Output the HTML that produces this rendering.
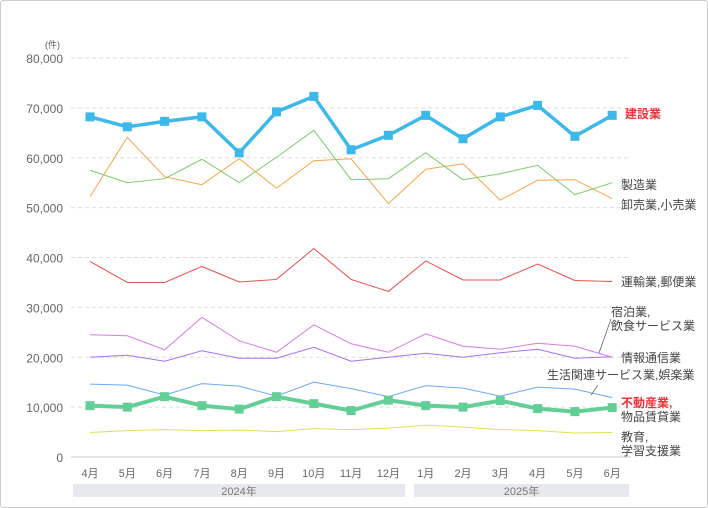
<!DOCTYPE html>
<html><head><meta charset="utf-8"><style>
body{margin:0;background:#fff;font-family:"Liberation Sans","Noto Sans CJK JP",sans-serif}
#wrap{position:relative;width:706px;height:506px;border:1px solid #ccc;border-radius:3px;overflow:hidden}
</style></head><body>
<div id="wrap">
<svg id="chart" width="706" height="506"></svg>
</div>
<script>
const months=["4月","5月","6月","7月","8月","9月","10月","11月","12月","1月","2月","3月","4月","5月","6月"];
const yTicks=[0,10000,20000,30000,40000,50000,60000,70000,80000];
const sConstruction=[68200,66200,67300,68200,61000,69200,72300,61600,64500,68500,63800,68200,70500,64300,68500];
const sManufacturing=[57500,55000,55800,59700,55000,60100,65500,55600,55800,61000,55600,56800,58500,52600,55000];
const sWholesale=[52200,64100,56200,54600,59800,53900,59400,59800,50800,57700,58800,51500,55500,55600,51800];
const sTransport=[39200,35000,35000,38200,35100,35600,41800,35600,33200,39300,35500,35500,38700,35400,35200];
const sAccommodation=[24500,24300,21500,28000,23300,21000,26500,22700,21000,24700,22200,21600,22800,22200,20000];
const sInfo=[20000,20400,19200,21300,19800,19800,22000,19200,20000,20800,20000,20900,21600,19800,20100];
const sLiving=[14600,14400,12400,14700,14200,12200,15000,13700,12100,14300,13800,12200,14000,13600,11900];
const sRealEstate=[10300,10000,12100,10300,9600,12100,10700,9300,11400,10300,10000,11300,9700,9100,9900];
const sEducation=[4900,5300,5500,5300,5400,5100,5700,5500,5800,6400,6000,5500,5300,4800,4900];

const svg=document.getElementById('chart');const NS="http://www.w3.org/2000/svg";
function el(t,a,p){const e=document.createElementNS(NS,t);for(const k in a)e.setAttribute(k,a[k]);(p||svg).appendChild(e);return e;}
const X=i=>89+i*37.3;
const Y=v=>456-v/80000*399;
yTicks.forEach(v=>{
  const l=el('line',{x1:70,x2:630,y1:Y(v),y2:Y(v),stroke:v===0?'#ccc':'#ddd','stroke-dasharray':v===0?'':'4,3'});
  
  
  const t=el('text',{x:62,y:Y(v)+5,'text-anchor':'end','font-size':12,fill:'#666'});
  t.textContent=v.toLocaleString('en-US');
  
  
});
const u=el('text',{x:44,y:47,'font-size':9,fill:'#555'});u.textContent='(件)';


months.forEach((m,i)=>{
  const t=el('text',{x:X(i),y:476,'text-anchor':'middle','font-size':11,fill:'#666'});t.textContent=m;
  
  
});
[[72,404,'2024年'],[413,628,'2025年']].forEach(g=>{
  const r=el('rect',{x:g[0],y:483,width:g[1]-g[0],height:13,fill:'#e8e9ee'});
  
  
  const t=el('text',{x:(g[0]+g[1])/2,y:494,'text-anchor':'middle','font-size':11,fill:'#777'});t.textContent=g[2];
  
  
});
const series=[
 [sEducation,'#dfdf55',1,false,'education'],
 [sLiving,'#6aaaf5',1,false,'living-services'],
 [sInfo,'#a770ef',1,false,'information'],
 [sAccommodation,'#d57ee0',1,false,'accommodation'],
 [sTransport,'#e8504c',1,false,'transport'],
 [sWholesale,'#f7a54a',1,false,'wholesale'],
 [sManufacturing,'#7ccc6a',1,false,'manufacturing'],
 [sRealEstate,'#63cf96',4,true,'real-estate'],
 [sConstruction,'#3db8ea',3.5,true,'construction']];
series.forEach(s=>{
  const p=el('polyline',{points:s[0].map((v,i)=>X(i)+','+Y(v)).join(' '),fill:'none',stroke:s[1],'stroke-width':s[2]});
  
  
  if(s[3])s[0].forEach((v,i)=>{
    const r=el('rect',{x:X(i)-4.5,y:Y(v)-4.5,width:9,height:9,fill:s[1]});
    
    
  });
});
[[598,352,610,318,'#666'],[590,394,597,384,'#666']].forEach(a=>{
  const l=el('line',{x1:a[0],y1:a[1],x2:a[2],y2:a[3],stroke:a[4],'stroke-width':0.8});
  
  
});
const labels=[
 [624,117,'建設業','#e8343a',true],[620,188,'製造業','#444'],[620,208,'卸売業,小売業','#444'],
 [620,285,'運輸業,郵便業','#444'],[610,315,'宿泊業,','#444'],[610,329,'飲食サービス業','#444'],
 [620,361,'情報通信業','#444'],[546,378,'生活関連サービス業,娯楽業','#444'],
 [620,406,'不動産業,','#e8343a',true],[620,420,'物品賃貸業','#444'],[620,440,'教育,','#444'],[620,454,'学習支援業','#444']];
labels.forEach(l=>{
  const t=el('text',{x:l[0],y:l[1],'font-size':12,fill:l[3],'font-weight':l[4]?'bold':'normal'});t.textContent=l[2];
  
  
});
</script>
</body></html>
